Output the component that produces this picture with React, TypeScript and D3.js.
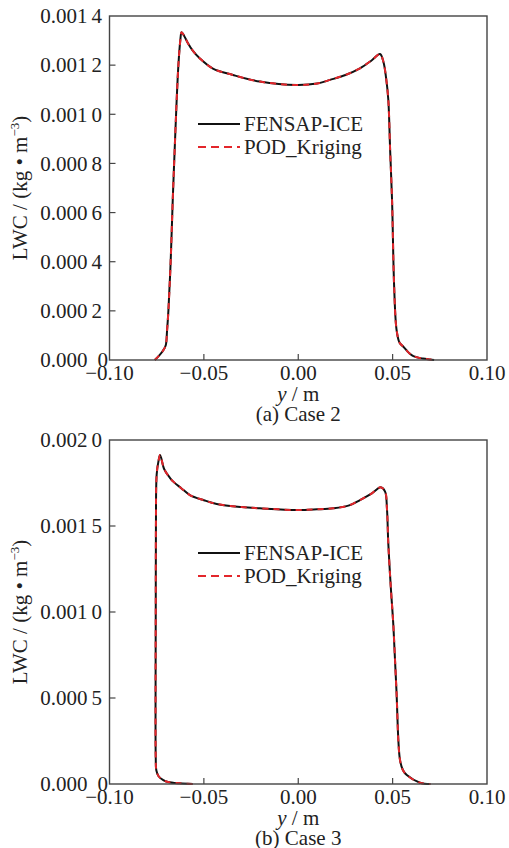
import React from 'react';
import * as d3 from 'd3';

// ---------- data ----------
const xTicks = [-0.1, -0.05, 0, 0.05, 0.1];
const xTickLabels = ['\u22120.10', '\u22120.05', '0.00', '0.05', '0.10'];

const case2YTicks = [0, 0.0002, 0.0004, 0.0006, 0.0008, 0.001, 0.0012, 0.0014];
const case2YTickLabels = ['0.000 0', '0.000 2', '0.000 4', '0.000 6', '0.000 8', '0.001 0', '0.001 2', '0.001 4'];

const case3YTicks = [0, 0.0005, 0.001, 0.0015, 0.002];
const case3YTickLabels = ['0.000 0', '0.000 5', '0.001 0', '0.001 5', '0.002 0'];

const case2X = [
  -0.076, -0.0735, -0.0715, -0.0702, -0.0695, -0.0688, -0.0676, -0.0665, -0.0655, -0.0644,
  -0.0635, -0.0625, -0.0618, -0.0605, -0.0585, -0.056, -0.0521, -0.0452, -0.0346, -0.0203,
  -0.0008, 0.01, 0.0168, 0.025, 0.0327, 0.039, 0.0433, 0.0451, 0.0465, 0.0477,
  0.0487, 0.0497, 0.0508, 0.0521, 0.0537, 0.0557, 0.0585, 0.061, 0.066, 0.07, 0.072,
];
const case2Fensap = [
  0.0, 0.00002, 0.00004, 0.00006, 0.00012, 0.0002, 0.0004, 0.00065, 0.00085, 0.00106,
  0.0012, 0.0013, 0.001334, 0.00132, 0.00129, 0.00126, 0.001227, 0.001186, 0.00116, 0.001133,
  0.001119, 0.001125, 0.00114, 0.00116, 0.001187, 0.00122, 0.001245, 0.001214, 0.00115, 0.00106,
  0.00085, 0.00065, 0.0003, 0.000122, 0.00007, 0.000054, 0.00003, 0.000016, 0.000006, 0.000002, 0.0,
];
const case2Pod = [
  0.0, 0.00002, 0.00004, 0.00006, 0.00012, 0.0002, 0.0004, 0.00065, 0.00085, 0.00106,
  0.0012, 0.0013, 0.001334, 0.00132, 0.00129, 0.00126, 0.001227, 0.001186, 0.00116, 0.001133,
  0.001119, 0.001125, 0.00114, 0.00116, 0.001187, 0.00122, 0.001245, 0.001214, 0.00115, 0.00106,
  0.00085, 0.00065, 0.0003, 0.000122, 0.00007, 0.000054, 0.00003, 0.000016, 0.000006, 0.000002, 0.0,
];

const case3X = [
  -0.056, -0.0627, -0.069, -0.0715, -0.074, -0.0752, -0.0755, -0.0756, -0.0755, -0.0754,
  -0.075, -0.074, -0.0732, -0.071, -0.068, -0.0662, -0.062, -0.0574, -0.05, -0.0432,
  -0.03, -0.0203, -0.0008, 0.01, 0.0186, 0.027, 0.0327, 0.039, 0.0437, 0.046,
  0.047, 0.0477, 0.049, 0.0504, 0.052, 0.0539, 0.0555, 0.0575, 0.0645, 0.07,
];
const case3Fensap = [
  0.0, 0.000004, 0.000012, 0.000023, 0.000045, 0.00008, 0.00015, 0.0005, 0.001, 0.0015,
  0.0018, 0.00188, 0.001913, 0.00183, 0.00178, 0.001758, 0.00172, 0.00168, 0.00165, 0.001628,
  0.00161, 0.001603, 0.001593, 0.001597, 0.001603, 0.00162, 0.001651, 0.00169, 0.001725, 0.0017,
  0.0016, 0.0014, 0.00115, 0.00092, 0.00055, 0.00014, 0.00008, 0.000052, 0.0000076, 0.0,
];
const case3Pod = [
  0.0, 0.000004, 0.000012, 0.000023, 0.000045, 0.00008, 0.00015, 0.0005, 0.001, 0.0015,
  0.0018, 0.00188, 0.001913, 0.00183, 0.00178, 0.001758, 0.00172, 0.00168, 0.00165, 0.001628,
  0.00161, 0.001603, 0.001593, 0.001597, 0.001603, 0.00162, 0.001651, 0.00169, 0.001725, 0.0017,
  0.0016, 0.0014, 0.00115, 0.00092, 0.00055, 0.00014, 0.00008, 0.000052, 0.0000076, 0.0,
];

const legendLabels = ['FENSAP-ICE', 'POD_Kriging'];
const captions = ['(a) Case 2', '(b) Case 3'];

// ---------- layout ----------
const W = 509;
const H = 848;
const LEFT = 109.5;
const RIGHT = 487;
const PLOT_H = 344;
const FONT = '"Liberation Serif", "Times New Roman", serif';
const FS = 21;
const RED = '#e3262b';
const TXT = '#222';

type PanelProps = {
  top: number;
  yMax: number;
  yTicks: number[];
  yTickLabels: string[];
  xs: number[];
  ysA: number[];
  ysB: number[];
  caption: string;
  legendOffset: number;
};

function Panel({ top, yMax, yTicks, yTickLabels, xs, ysA, ysB, caption, legendOffset }: PanelProps) {
  const bottom = top + PLOT_H;
  const x = d3.scaleLinear().domain([-0.1, 0.1]).range([LEFT, RIGHT]);
  const y = d3.scaleLinear().domain([0, yMax]).range([bottom, top]);
  const line = d3
    .line<number>()
    .x((_, i) => x(xs[i]))
    .y((d) => y(d))
    .curve(d3.curveCatmullRom.alpha(0.5));
  const midX = x(0);
  const midY = (top + bottom) / 2;
  const legY1 = top + legendOffset;
  const legY2 = legY1 + 23;
  return (
    <g fontFamily={FONT}>
      <path d={line(ysA) || ''} fill="none" stroke="#111" strokeWidth={2} />
      <path d={line(ysB) || ''} fill="none" stroke={RED} strokeWidth={2} strokeDasharray="6,5" />
      <rect x={LEFT} y={top} width={RIGHT - LEFT} height={PLOT_H} fill="none" stroke="#444" strokeWidth={1.4} />
      {xTicks.map((t, i) => (
        <g key={'xt' + i}>
          {i > 0 && i < xTicks.length - 1 && (
            <line x1={x(t)} x2={x(t)} y1={bottom} y2={bottom - 6} stroke="#444" strokeWidth={1.2} />
          )}
          <text x={x(t)} y={bottom + 20} textAnchor="middle" fontSize={FS} fill={TXT} fontFamily={FONT}>
            {xTickLabels[i]}
          </text>
        </g>
      ))}
      {yTicks.map((t, i) => {
        const lab = yTickLabels[i];
        const parts = lab.split(' ');
        const isZero = t === 0;
        return (
          <g key={'yt' + i}>
            {i > 0 && i < yTicks.length - 1 && (
              <line x1={LEFT} x2={LEFT + 6} y1={y(t)} y2={y(t)} stroke="#444" strokeWidth={1.2} />
            )}
            <text
              x={isZero ? 108 : 102}
              y={y(t)}
              dy="0.35em"
              textAnchor="end"
              fontSize={FS}
              fill={TXT}
              fontFamily={FONT}
            >
              <tspan>{parts[0]}</tspan>
              <tspan dx={isZero ? 10 : 4}>{parts[1]}</tspan>
            </text>
          </g>
        );
      })}
      <text x={midX} y={bottom + 41} textAnchor="middle" fontSize={FS} fill={TXT} fontFamily={FONT}>
        <tspan fontStyle="italic">y</tspan>
        <tspan> / m</tspan>
      </text>
      <text x={midX} y={bottom + 61} textAnchor="middle" fontSize={FS} fill={TXT} fontFamily={FONT}>
        {caption}
      </text>
      <text
        transform={`translate(${27},${midY}) rotate(-90)`}
        textAnchor="middle"
        fontSize={FS}
        fill={TXT}
        fontFamily={FONT}
      >
        <tspan>LWC / (kg {'\u2022'} m</tspan>
        <tspan dy={-8} fontSize={13}>{'\u22123'}</tspan>
        <tspan dy={8}>)</tspan>
      </text>
      <line x1={198} x2={240} y1={legY1} y2={legY1} stroke="#111" strokeWidth={2} />
      <text x={244} y={legY1} dy="0.35em" fontSize={FS} fill={TXT} fontFamily={FONT}>
        {legendLabels[0]}
      </text>
      <line x1={198} x2={240} y1={legY2} y2={legY2} stroke={RED} strokeWidth={2} strokeDasharray="8,5" />
      <text x={244} y={legY2} dy="0.35em" fontSize={FS} fill={TXT} fontFamily={FONT}>
        {legendLabels[1]}
      </text>
    </g>
  );
}

export default function App() {
  return (
    <svg
      width={W}
      height={H}
      viewBox={`0 0 ${W} ${H}`}
      style={{ position: 'absolute', left: 0, top: 0, background: '#fff' }}
    >
      <rect x={0} y={0} width={W} height={H} fill="#fff" />
      <Panel
        top={16}
        yMax={0.0014}
        yTicks={case2YTicks}
        yTickLabels={case2YTickLabels}
        xs={case2X}
        ysA={case2Fensap}
        ysB={case2Pod}
        caption={captions[0]}
        legendOffset={108}
      />
      <Panel
        top={440}
        yMax={0.002}
        yTicks={case3YTicks}
        yTickLabels={case3YTickLabels}
        xs={case3X}
        ysA={case3Fensap}
        ysB={case3Pod}
        caption={captions[1]}
        legendOffset={113}
      />
    </svg>
  );
}
